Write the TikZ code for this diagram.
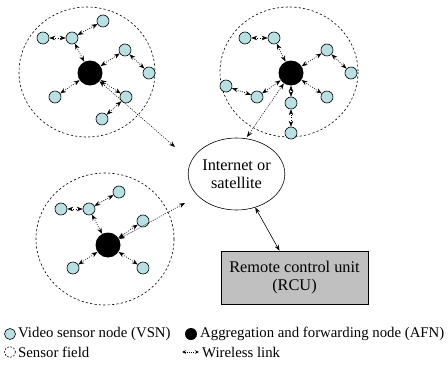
\documentclass[tikz,border=0pt]{standalone}
\usepackage{fontspec}
\setmainfont{Liberation Serif}
\usetikzlibrary{arrows.meta,shapes.geometric}
\definecolor{vsncol}{RGB}{184,224,226}
\definecolor{rcucol}{RGB}{192,192,192}
\tikzset{
  vsn/.style={circle,draw,fill=vsncol,line width=0.6pt,minimum size=12pt,inner sep=0pt},
  afn/.style={circle,fill=black,minimum size=25pt,inner sep=0pt},
  field/.style={draw,line width=0.6pt,dash pattern=on 2.2pt off 2.2pt},
  tip/.style={Stealth[length=6pt,width=4.5pt,inset=2pt]},
  link/.style={line width=0.55pt,dash pattern=on 1pt off 1.3pt,{Stealth[length=6pt,width=4.5pt,inset=2pt]}-{Stealth[length=6pt,width=4.5pt,inset=2pt]}},
  solidlink/.style={line width=0.6pt,{Stealth[length=6pt,width=4.5pt,inset=2pt]}-{Stealth[length=6pt,width=4.5pt,inset=2pt]}},
  lbl/.style={font=\fontsize{16.3}{18.5}\selectfont,align=center},
  leg/.style={font=\fontsize{14.8}{17}\selectfont,anchor=west,inner sep=0pt}
}
\begin{document}
\begin{tikzpicture}[x=1pt,y=-1pt]
\useasboundingbox (0,0) rectangle (448,367);
% sensor fields
\draw[field] (87,72) circle[x radius=68,y radius=65];
\draw[field] (289,72) circle[x radius=69,y radius=65];
\draw[field] (105,239) circle[x radius=69,y radius=66];
% cluster 1
\node[afn] (A1) at (90,73) {};
\node[vsn] (a1) at (103,21) {};
\node[vsn] (a2) at (43,38) {};
\node[vsn] (a3) at (72,38) {};
\node[vsn] (a4) at (125,50) {};
\node[vsn] (a5) at (149,73) {};
\node[vsn] (a6) at (55,97) {};
\node[vsn] (a7) at (126,97) {};
\node[vsn] (a8) at (102,119) {};
\draw[link] (a1) -- (a3);
\draw[link] (a2) -- (a3);
\draw[link] (a3) -- (A1);
\draw[link] (a4) -- (A1);
\draw[link] (a5) -- (a4);
\draw[link] (a6) -- (A1);
\draw[link] (a7) -- (A1);
\draw[link] (a8) -- (a7);
% cluster 2
\node[afn] (B1) at (291,73) {};
\node[vsn] (b1) at (245,38) {};
\node[vsn] (b2) at (274,38) {};
\node[vsn] (b3) at (327,50) {};
\node[vsn] (b4) at (351,73) {};
\node[vsn] (b5) at (226,86) {};
\node[vsn] (b6) at (257,97) {};
\node[vsn] (b7) at (291,103) {};
\node[vsn] (b8) at (327,97) {};
\node[vsn] (b9) at (291,133) {};
\draw[link] (b1) -- (b2);
\draw[link] (b2) -- (B1);
\draw[link] (b3) -- (B1);
\draw[link] (b4) -- (b3);
\draw[link] (b5) -- (b6);
\draw[link] (b6) -- (B1);
\draw[link] (b7) -- (B1);
\draw[link] (b9) -- (b7);
\draw[link] (b8) -- (B1);
% cluster 3
\node[afn] (C1) at (108,245) {};
\node[vsn] (c1) at (119,192) {};
\node[vsn] (c2) at (61,209) {};
\node[vsn] (c3) at (89,209) {};
\node[vsn] (c4) at (143,221) {};
\node[vsn] (c5) at (73,268) {};
\node[vsn] (c6) at (143,268) {};
\draw[link] (c1) -- (c3);
\draw[link] (c2) -- (c3);
\draw[link] (c3) -- (C1);
\draw[link] (c4) -- (C1);
\draw[link] (c5) -- (C1);
\draw[link] (c6) -- (C1);
% internet and RCU
\node[ellipse,draw,line width=0.6pt,minimum width=88pt,minimum height=72pt,inner sep=0pt,lbl] (net) at (236.5,174) {Internet or\\satellite};
\node[draw,line width=0.6pt,fill=rcucol,minimum width=147pt,minimum height=53pt,inner sep=0pt,lbl] (rcu) at (294.5,277.5) {Remote control unit\\(RCU)};
\coordinate (e1) at (175,147);
\coordinate (e2) at (247,137);
\coordinate (e3) at (185,203);
\draw[link] (A1) -- (e1);
\draw[link] (B1) -- (e2);
\draw[link] (C1) -- (e3);
\draw[solidlink] (net) -- (rcu);
% legend
\node[vsn,minimum size=11pt] (lv) at (10,334) {};
\node[leg] (lvt) at (18,334) {Video sensor node (VSN)};
\node[afn,minimum size=12pt] (la) at (191,334) {};
\node[leg] (lat) at (200,334) {Aggregation and forwarding node (AFN)};
\node[circle,minimum size=11pt,inner sep=0pt,draw,line width=0.6pt,dash pattern=on 1.6pt off 1.6pt] (lf) at (10,352) {};
\node[leg] (lft) at (18,352) {Sensor field};
\coordinate (lw1) at (182,352);
\coordinate (lw2) at (199,352);
\draw[line width=0.5pt,dash pattern=on 1pt off 1.2pt,{Stealth[length=4pt,width=3.5pt,inset=1.3pt]}-{Stealth[length=4pt,width=3.5pt,inset=1.3pt]}] (lw1) -- (lw2);
\node[leg] (lwt) at (202,352) {Wireless link};
\end{tikzpicture}
\end{document}
